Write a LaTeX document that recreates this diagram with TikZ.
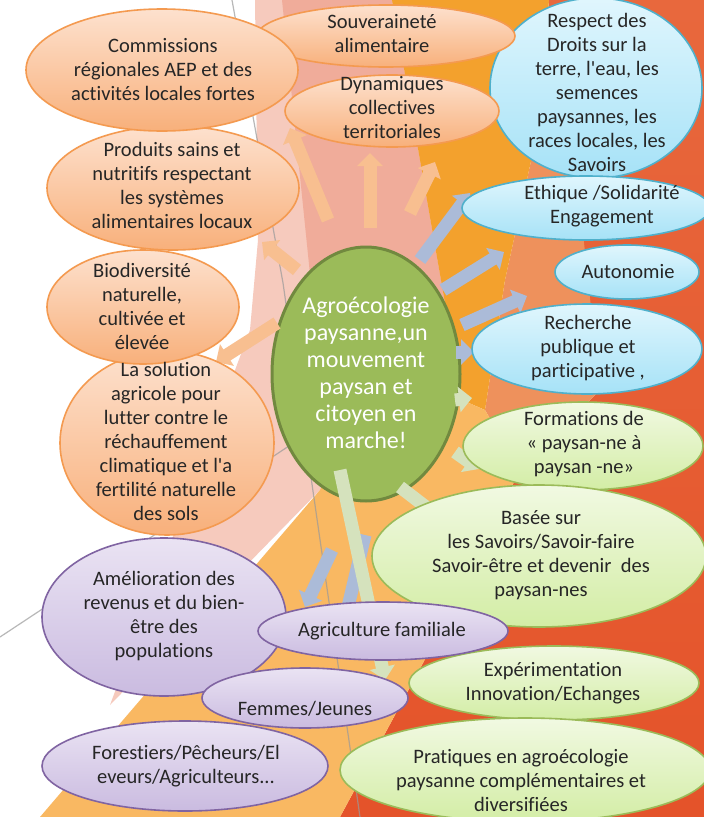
\documentclass[tikz,border=0pt]{standalone}
\usepackage{fontspec}
\setmainfont{Carlito}[Ligatures={TeXOff,NoCommon}]
\usetikzlibrary{arrows.meta,shapes.geometric}
\definecolor{bgpink}{HTML}{F6CABD}
\definecolor{bgsalmon}{HTML}{F0AC9A}
\definecolor{bgorange}{HTML}{F3A12D}
\definecolor{bgband}{HTML}{EE915C}
\definecolor{bgredtop}{HTML}{E8683D}
\definecolor{bgred}{HTML}{E4532A}
\definecolor{bglight}{HTML}{F9B862}
\definecolor{gline}{HTML}{9A9A9A}
\definecolor{orB}{HTML}{F49A50}
\definecolor{orT}{HTML}{FDE1CE}
\definecolor{orD}{HTML}{F8B07B}
\definecolor{blB}{HTML}{4FB0CB}
\definecolor{blT}{HTML}{E0F6FD}
\definecolor{blD}{HTML}{A6E2F7}
\definecolor{gnB}{HTML}{9BBB59}
\definecolor{gnT}{HTML}{F1F9E2}
\definecolor{gnD}{HTML}{D3EDA5}
\definecolor{puB}{HTML}{8064A2}
\definecolor{puT}{HTML}{EAE3F3}
\definecolor{puD}{HTML}{CABBE0}
\definecolor{ctF}{HTML}{9BBB59}
\definecolor{ctB}{HTML}{71893F}
\definecolor{txtc}{HTML}{262626}
\definecolor{apeach}{HTML}{F8BF90}
\definecolor{ablue}{HTML}{ABBBD8}
\definecolor{agreen}{HTML}{D5E2BD}
\tikzset{
  ell/.style={ellipse, inner sep=0pt, line width=1.6pt},
  orell/.style={ell, draw=orB, top color=orT, bottom color=orD},
  blell/.style={ell, draw=blB, top color=blT, bottom color=blD},
  gnell/.style={ell, draw=gnB, top color=gnT, bottom color=gnD},
  puell/.style={ell, draw=puB, top color=puT, bottom color=puD},
  ctell/.style={ellipse, inner sep=0pt, line width=3pt, draw=ctB, fill=ctF},
  txt/.style={align=center, inner sep=0pt, text=txtc, font=\fontsize{20.5}{24}\selectfont},
  ctxt/.style={align=center, inner sep=0pt, text=white, font=\fontsize{24}{27}\selectfont},
  arr/.style={line width=13pt, -{Triangle[width=25pt 0 0,length=13pt 0 0]}},
  parr/.style={arr, draw=apeach},
  barr/.style={arr, draw=ablue},
  garr/.style={arr, draw=agreen},
}
\newcommand{\ellnode}[6]{\node[#1, minimum width=#4pt, minimum height=#5pt] (#6) at (#2,#3) {};}
\begin{document}
\begin{tikzpicture}[x=1pt,y=-1pt]
\useasboundingbox (0,0) rectangle (704,817);
\clip (0,0) rectangle (704,817);
% background
\fill[white] (0,0) rectangle (704,817);
\shade[top color=bgredtop, bottom color=bgred] (549,0) -- (704,0) -- (704,817) -- (340,817) -- (430,650) -- (520,470) -- (600,390) -- (540,120) -- cycle;
\fill[bgpink] (255,0) -- (420,0) -- (470,420) -- (320,490) -- (110,705) -- (250,330) -- (258,240) -- cycle;
\fill[bgsalmon] (282,0) -- (392,0) -- (462,400) -- (330,470) -- cycle;
\fill[bgband] (540,120) -- (575,160) -- (600,390) -- (520,470) -- (485,410) -- (505,280) -- cycle;
\fill[bgorange] (392,0) -- (549,0) -- (540,120) -- (505,280) -- (485,410) -- (462,400) -- cycle;
\fill[bglight] (40,817) -- (320,490) -- (330,470) -- (462,400) -- (485,410) -- (520,470) -- (430,650) -- (340,817) -- cycle;
\draw[gline, line width=1.2pt, opacity=0.7] (232,0) -- (283,283) -- (360,817);
\draw[gline, line width=1.2pt, opacity=0.7] (0,637) -- (295,442);
% central node
\ellnode{ctell}{366}{374}{188}{254}{c}
\node[ctxt] (tc) at (366,373) {Agroécologie\\paysanne,un\\mouvement\\paysan et\\citoyen en\\marche!};
% arrow coordinates
\coordinate (a1s) at (370,228); \coordinate (a1e) at (370,153);
\coordinate (a2s) at (410,213); \coordinate (a2e) at (435,162);
\coordinate (a3s) at (328,220); \coordinate (a3e) at (290,128);
\coordinate (a4s) at (297,270); \coordinate (a4e) at (262,242);
\coordinate (a5s) at (277,323); \coordinate (a5e) at (216,362);
\coordinate (b1s) at (420,260); \coordinate (b1e) at (470,193);
\coordinate (b2s) at (443,290); \coordinate (b2e) at (504,252);
\coordinate (b3s) at (462,325); \coordinate (b3e) at (527,296);
\coordinate (b4s) at (456,352); \coordinate (b4e) at (474,352);
\coordinate (b5s) at (393,530); \coordinate (b5e) at (431,569);
\coordinate (b6s) at (332,550); \coordinate (b6e) at (305,607);
\coordinate (b7s) at (365,535); \coordinate (b7e) at (343,628);
\coordinate (g1s) at (455,400); \coordinate (g1e) at (472,398);
\coordinate (g2s) at (455,452); \coordinate (g2e) at (479,469);
\coordinate (g3s) at (400,487); \coordinate (g3e) at (443,520);
\coordinate (g4s) at (340,470); \coordinate (g4e) at (385,680);
\draw[parr] (a1s) -- (a1e);
\draw[parr] (a2s) -- (a2e);
\draw[parr] (a3s) -- (a3e);
\draw[parr] (a4s) -- (a4e);
\draw[parr] (a5s) -- (a5e);
\draw[barr] (b1s) -- (b1e);
\draw[barr] (b2s) -- (b2e);
\draw[barr] (b3s) -- (b3e);
\draw[barr] (b4s) -- (b4e);
\draw[barr] (b5s) -- (b5e);
\draw[barr] (b6s) -- (b6e);
\draw[barr] (b7s) -- (b7e);
\draw[garr] (g1s) -- (g1e);
\draw[garr] (g2s) -- (g2e);
\draw[garr] (g3s) -- (g3e);
\draw[garr] (g4s) -- (g4e);
% outer ellipses
\ellnode{blell}{596}{88}{212}{180}{e4}
\ellnode{blell}{586}{208}{248}{64}{e5}
\ellnode{blell}{627}{272}{144}{54}{e6}
\ellnode{blell}{587}{349}{230}{90}{e7}
\ellnode{gnell}{583}{446}{240}{88}{e8}
\ellnode{gnell}{539}{556}{334}{142}{e9}
\ellnode{gnell}{554}{683}{290}{74}{e14}
\ellnode{gnell}{525}{770}{370}{104}{e15}
\ellnode{orell}{386}{36}{258}{62}{e2}
\ellnode{orell}{392}{111}{214}{72}{e3}
\ellnode{orell}{173}{188}{252}{124}{e17}
\ellnode{orell}{162}{70}{272}{122}{e1}
\ellnode{orell}{167}{443}{214}{184}{e18}
\ellnode{orell}{143}{307}{192}{114}{e16}
\ellnode{puell}{164}{617}{244}{158}{e11}
\ellnode{puell}{305}{698}{206}{60}{e12}
\ellnode{puell}{185}{766}{286}{90}{e13}
\ellnode{puell}{383}{631}{250}{58}{e10}
% texts
\node[txt] (t1) at (163,70) {Commissions\\régionales AEP et des\\activités locales fortes};
\node[txt] (t2) at (382,34) {Souveraineté\\alimentaire};
\node[txt] (t3) at (392,108) {Dynamiques\\collectives\\territoriales};
\node[txt] (t4) at (597,92) {Respect des\\Droits sur la\\terre, l'eau, les\\semences\\paysannes, les\\races locales, les\\Savoirs};
\node[txt] (t5) at (602,206) {Ethique /Solidarité\\Engagement};
\node[txt] (t6) at (628,272) {Autonomie};
\node[txt] (t7) at (588,348) {Recherche\\publique et\\participative ,};
\node[txt] (t8) at (584,444) {Formations de\\« paysan-ne à\\paysan -ne»};
\node[txt] (t9) at (541,555) {Basée sur\\les Savoirs/Savoir-faire\\Savoir-être et devenir~~des\\paysan-nes};
\node[txt] (t10) at (382,631) {Agriculture familiale};
\node[txt] (t11) at (164,616) {Amélioration des\\revenus et du bien-\\être des\\populations};
\node[txt] (t12) at (305,709) {Femmes/Jeunes};
\node[txt] (t13) at (186,766) {Forestiers/Pêcheurs/El\\eveurs/Agriculteurs...};
\node[txt] (t14) at (553,683) {Expérimentation\\Innovation/Echanges};
\node[txt] (t15) at (521,780) {Pratiques en agroécologie\\paysanne complémentaires et\\diversifiées};
\node[txt] (t16) at (142,306) {Biodiversité\\naturelle,\\cultivée et\\élevée};
\node[txt] (t17) at (172,185) {Produits sains et\\nutritifs respectant\\les systèmes\\alimentaires locaux};
\node[txt] (t18) at (166,441) {La solution\\agricole pour\\lutter contre le\\réchauffement\\climatique et l'a\\fertilité naturelle\\des sols};
\end{tikzpicture}
\end{document}
